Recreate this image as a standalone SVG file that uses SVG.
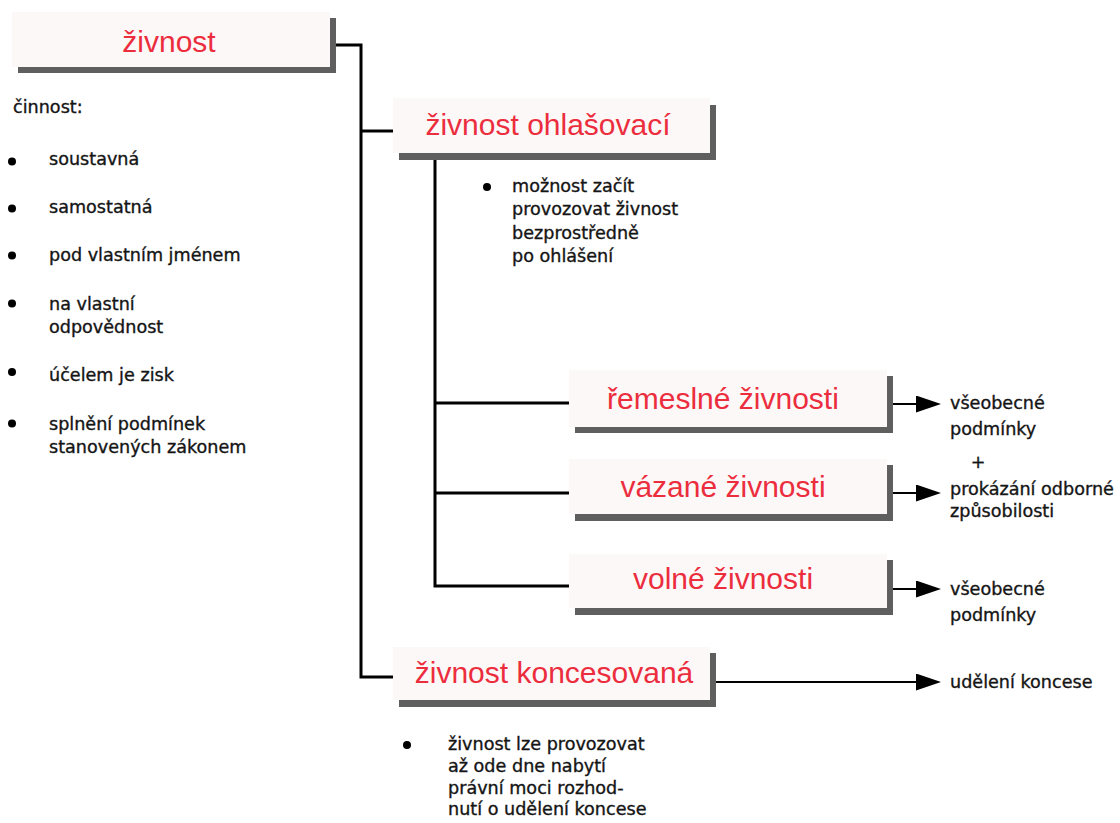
<svg xmlns="http://www.w3.org/2000/svg" width="1120" height="823" viewBox="0 0 1120 823">
<style>
.shadow{fill:#5f5f5f}
.box{fill:#fbf8f7}
.title{font-family:"Liberation Sans",Arial,sans-serif;font-size:30px;fill:#ec2d3e;text-anchor:middle}
.t{font-family:"DejaVu Sans",sans-serif;font-size:17.6px;fill:#151515;stroke:#151515;stroke-width:0.35px}
.con{fill:none;stroke:#000;stroke-width:3}
.arr{fill:none;stroke:#000;stroke-width:2}
.dot{fill:#000}
</style>
<defs>
<marker id="ah" markerUnits="userSpaceOnUse" markerWidth="25" markerHeight="17" viewBox="0 0 25 17" refX="0" refY="8.5" orient="auto">
<path d="M0,0 L25,8.5 L0,17 Z" fill="#000"/>
</marker>
</defs>
<rect width="1120" height="823" fill="#fff"/>
<g id="connectors">
<path class="con" d="M334 45 H361 V677 H393"/>
<path class="con" d="M361 131 H393"/>
<path class="con" d="M435 158 V586 H569"/>
<path class="con" d="M435 403 H569"/>
<path class="con" d="M435 493 H569"/>
<path class="arr" d="M891 404 H916" marker-end="url(#ah)"/>
<path class="arr" d="M891 493 H916" marker-end="url(#ah)"/>
<path class="arr" d="M891 589 H916" marker-end="url(#ah)"/>
<path class="arr" d="M714 682 H916" marker-end="url(#ah)"/>
</g>
<g id="n-zivnost">
<rect class="shadow" x="18" y="18" width="318" height="55"/>
<rect class="box" x="12" y="12" width="318" height="55"/>
<text class="title" x="169" y="52">živnost</text>
</g>
<g id="n-ohlasovaci">
<rect class="shadow" x="399" y="105" width="317" height="55"/>
<rect class="box" x="393" y="98" width="317" height="55"/>
<text class="title" x="548" y="135">živnost ohlašovací</text>
</g>
<g id="n-remeslne">
<rect class="shadow" x="575" y="376" width="318" height="57"/>
<rect class="box" x="569" y="370" width="318" height="57"/>
<text class="title" x="723" y="409">řemeslné živnosti</text>
</g>
<g id="n-vazane">
<rect class="shadow" x="575" y="465" width="318" height="56"/>
<rect class="box" x="569" y="459" width="318" height="55"/>
<text class="title" x="723" y="497">vázané živnosti</text>
</g>
<g id="n-volne">
<rect class="shadow" x="575" y="560" width="318" height="55"/>
<rect class="box" x="569" y="554" width="318" height="54"/>
<text class="title" x="723" y="589">volné živnosti</text>
</g>
<g id="n-koncesovana">
<rect class="shadow" x="399" y="653" width="317" height="54"/>
<rect class="box" x="393" y="647" width="317" height="53"/>
<text class="title" x="554" y="683">živnost koncesovaná</text>
</g>
<g id="n-cinnost">
<text class="t" x="13" y="112.5">činnost:</text>
<circle class="dot" cx="12" cy="161.5" r="4"/>
<text class="t" x="49" y="165">soustavná</text>
<circle class="dot" cx="12" cy="208.5" r="4"/>
<text class="t" x="49" y="213">samostatná</text>
<circle class="dot" cx="12" cy="255.5" r="4"/>
<text class="t" x="49" y="261">pod vlastním jménem</text>
<circle class="dot" cx="12" cy="303.5" r="4"/>
<text class="t" x="49" y="309.5">na vlastní</text>
<text class="t" x="49" y="333">odpovědnost</text>
<circle class="dot" cx="12" cy="372" r="4"/>
<text class="t" x="49" y="381">účelem je zisk</text>
<circle class="dot" cx="12" cy="423.5" r="4"/>
<text class="t" x="49" y="429.5">splnění podmínek</text>
<text class="t" x="49" y="452.5">stanovených zákonem</text>
</g>
<g id="n-ohlasovaci-note">
<circle class="dot" cx="487" cy="187" r="4"/>
<text class="t" x="512" y="191.5">možnost začít</text>
<text class="t" x="512" y="215">provozovat živnost</text>
<text class="t" x="512" y="238.5">bezprostředně</text>
<text class="t" x="512" y="262">po ohlášení</text>
</g>
<g id="n-remeslne-note">
<text class="t" x="950" y="409">všeobecné</text>
<text class="t" x="950" y="435">podmínky</text>
</g>
<g id="n-vazane-note">
<text class="t" x="978" y="468" text-anchor="middle">+</text>
<text class="t" x="950" y="495">prokázání odborné</text>
<text class="t" x="950" y="517">způsobilosti</text>
</g>
<g id="n-volne-note">
<text class="t" x="950" y="595">všeobecné</text>
<text class="t" x="950" y="621">podmínky</text>
</g>
<g id="n-koncese-note">
<text class="t" x="950" y="688">udělení koncese</text>
</g>
<g id="n-koncesovana-note">
<circle class="dot" cx="407" cy="745" r="4"/>
<text class="t" x="448" y="750">živnost lze provozovat</text>
<text class="t" x="448" y="772">až ode dne nabytí</text>
<text class="t" x="448" y="793.5">právní moci rozhod-</text>
<text class="t" x="448" y="815">nutí o udělení koncese</text>
</g>
</svg>
